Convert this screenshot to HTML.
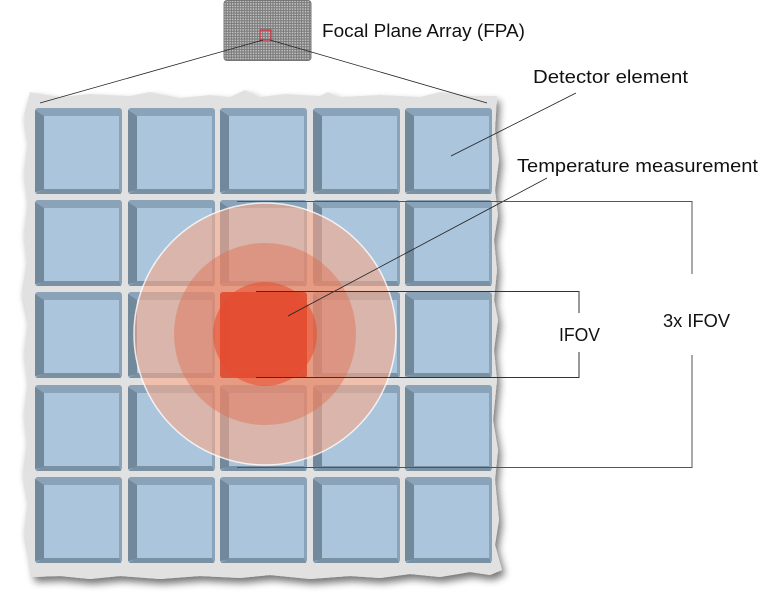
<!DOCTYPE html>
<html><head><meta charset="utf-8"><style>
html,body{margin:0;padding:0;background:#fff;}
svg{display:block;}
text{font-family:"Liberation Sans",sans-serif;font-size:18px;fill:#111;}
</style></head><body>
<svg width="760" height="605" viewBox="0 0 760 605" xmlns="http://www.w3.org/2000/svg">
<defs>
<filter id="sh" x="-10%" y="-10%" width="120%" height="120%">
<feGaussianBlur in="SourceAlpha" stdDeviation="4"/>
<feOffset dx="3" dy="5" result="b"/>
<feComponentTransfer><feFuncA type="linear" slope="0.55"/></feComponentTransfer>
<feMerge><feMergeNode/><feMergeNode in="SourceGraphic"/></feMerge>
</filter>
<pattern id="grid" width="2.6" height="2.6" patternUnits="userSpaceOnUse">
<rect width="2.6" height="2.6" fill="#7a7a7a"/>
<rect x="0.6" y="0.6" width="1.4" height="1.4" fill="#d0d0d0"/>
</pattern>
<g id="c">
<rect x="0" y="0" width="87" height="86" rx="3" fill="#8aa3b8"/>
<polygon points="0,2 9,8 9,82 0,84" fill="#72889b"/>
<polygon points="1,86 9,81 84,81 86,86" fill="#7a90a3"/>
<rect x="9" y="8" width="75" height="73" fill="#abc6dc"/>
</g>
</defs>

<path filter="url(#sh)" fill="#e1e1e1" d="M30,92 L60,97 L90,94 L130,96 L150,92 L180,98 L210,95 L230,97 L245,90 L260,97 L285,94 L320,96 L328,92 L340,97 L380,95 L420,97 L440,92 L470,96 L497,96 L495,130 L499,160 L495,190 L498,215 L494,240 L497,270 L494,300 L498,320 L494,350 L497,380 L493,420 L498,450 L495,480 L499,520 L495,545 L502,570 L490,575 L470,572 L440,577 L410,574 L380,578 L350,576 L310,579 L270,575 L240,578 L200,576 L160,579 L120,576 L90,579 L60,576 L32,577 L28,550 L24,530 L28,500 L23,470 L27,440 L24,410 L28,380 L24,350 L28,320 L22,290 L27,260 L24,230 L28,200 L24,170 L28,140 L24,115 Z"/>

<g>
<use href="#c" x="35" y="108"/><use href="#c" x="128" y="108"/><use href="#c" x="220" y="108"/><use href="#c" x="313" y="108"/><use href="#c" x="405" y="108"/>
<use href="#c" x="35" y="200"/><use href="#c" x="128" y="200"/><use href="#c" x="220" y="200"/><use href="#c" x="313" y="200"/><use href="#c" x="405" y="200"/>
<use href="#c" x="35" y="292"/><use href="#c" x="128" y="292"/><use href="#c" x="220" y="292"/><use href="#c" x="313" y="292"/><use href="#c" x="405" y="292"/>
<use href="#c" x="35" y="385"/><use href="#c" x="128" y="385"/><use href="#c" x="220" y="385"/><use href="#c" x="313" y="385"/><use href="#c" x="405" y="385"/>
<use href="#c" x="35" y="477"/><use href="#c" x="128" y="477"/><use href="#c" x="220" y="477"/><use href="#c" x="313" y="477"/><use href="#c" x="405" y="477"/>
</g>

<circle cx="265" cy="334" r="131" fill="rgb(248,170,140)" fill-opacity="0.6" stroke="#fff" stroke-width="1.5" stroke-opacity="0.8"/>
<circle cx="265" cy="334" r="91" fill="rgb(225,110,80)" fill-opacity="0.45"/>
<rect x="220" y="292" width="87" height="86" rx="3" fill="#e14a2e" fill-opacity="0.85"/>
<circle cx="265" cy="334" r="52" fill="rgb(232,75,45)" fill-opacity="0.55"/>

<rect x="224" y="0.5" width="87" height="60" rx="3" fill="url(#grid)" stroke="#777" stroke-width="1"/>
<rect x="260" y="30" width="11" height="10" fill="none" stroke="#e8283c" stroke-width="1.2"/>
<line x1="263" y1="40" x2="40" y2="103" stroke="#222" stroke-width="0.8"/>
<line x1="270" y1="40" x2="487" y2="103" stroke="#222" stroke-width="0.8"/>

<line x1="576" y1="93" x2="451" y2="156" stroke="#222" stroke-width="0.8"/>
<line x1="547" y1="178" x2="288" y2="316" stroke="#222" stroke-width="0.8"/>

<polyline points="256,291.5 579,291.5 579,313" fill="none" stroke="#333" stroke-width="1"/>
<polyline points="579,352 579,377.5 256,377.5" fill="none" stroke="#333" stroke-width="1"/>
<polyline points="237,201.5 692,201.5 692,274" fill="none" stroke="#555" stroke-width="1"/>
<polyline points="692,355 692,467.5 237,467.5" fill="none" stroke="#555" stroke-width="1"/>

<text x="322" y="37" textLength="203" lengthAdjust="spacingAndGlyphs">Focal Plane Array (FPA)</text>
<text x="533" y="83" textLength="155" lengthAdjust="spacingAndGlyphs">Detector element</text>
<text x="517" y="172" textLength="241" lengthAdjust="spacingAndGlyphs">Temperature measurement</text>
<text x="559" y="341" textLength="41" lengthAdjust="spacingAndGlyphs">IFOV</text>
<text x="663" y="327" textLength="67" lengthAdjust="spacingAndGlyphs">3x IFOV</text>
</svg>
</body></html>
